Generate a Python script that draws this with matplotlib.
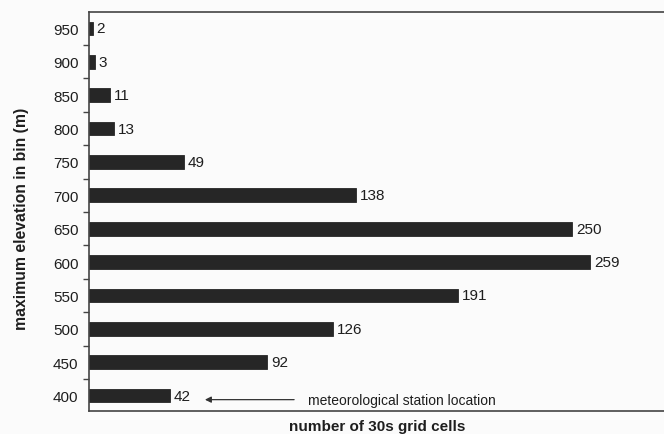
import matplotlib
matplotlib.use("Agg")
import matplotlib.pyplot as plt
import numpy as np

elevations = ["400", "450", "500", "550", "600", "650", "700", "750", "800", "850", "900", "950"]
cell_counts = [42, 92, 126, 191, 259, 250, 138, 49, 13, 11, 3, 2]

plt.rcParams["font.family"] = ["Liberation Sans", "DejaVu Sans"]

W, H = 664, 435
fig = plt.figure(figsize=(W / 100, H / 100), dpi=100)
fig.patch.set_facecolor("#fbfbfb")
ax = fig.add_axes([89 / W, 1 - 412 / H, 1 - 89 / W + 0.002, 399 / H])
ax.set_facecolor("#fbfbfb")

pos = np.arange(len(elevations))
ax.barh(pos, cell_counts, height=0.41, color="#262626", edgecolor="#262626", linewidth=0.6)

for p, v in zip(pos, cell_counts):
    ax.text(v + 2, p, str(v), va="center", ha="left", fontsize=11, color="#1e1e1e")

ax.set_xlim(0, 298)
ax.set_ylim(-0.46, len(elevations) - 0.51)

ax.set_yticks(pos)
ax.set_yticklabels(elevations, fontsize=11, color="#1e1e1e")
ax.tick_params(axis="y", which="major", length=0, pad=7.5)
ax.set_yticks(pos[:-1] + 0.5, minor=True)
ax.tick_params(axis="y", which="minor", length=4, width=1, color="#444444", direction="out")
ax.set_xticks([])

ax.spines["right"].set_visible(False)
for s in ("left", "top", "bottom"):
    ax.spines[s].set_color("#444444")
    ax.spines[s].set_linewidth(1.2)

fig.text(22 / W, 1 - 218.5 / H, "maximum elevation in bin (m)", rotation=90,
         ha="center", va="center", fontsize=11.3, fontweight="bold", color="#1e1e1e")
ax.set_xlabel("number of 30s grid cells", fontsize=11, fontweight="bold", color="#1e1e1e", labelpad=6)

ax.annotate("", xy=(58.5, -0.12), xytext=(107.5, -0.12),
            arrowprops=dict(arrowstyle="-|>", color="#333333", lw=0.9, mutation_scale=9))
ax.text(113, -0.12, "meteorological station location", va="center", ha="left",
        fontsize=10, color="#1e1e1e")

fig.savefig("out.png", dpi=100, facecolor=fig.get_facecolor())
